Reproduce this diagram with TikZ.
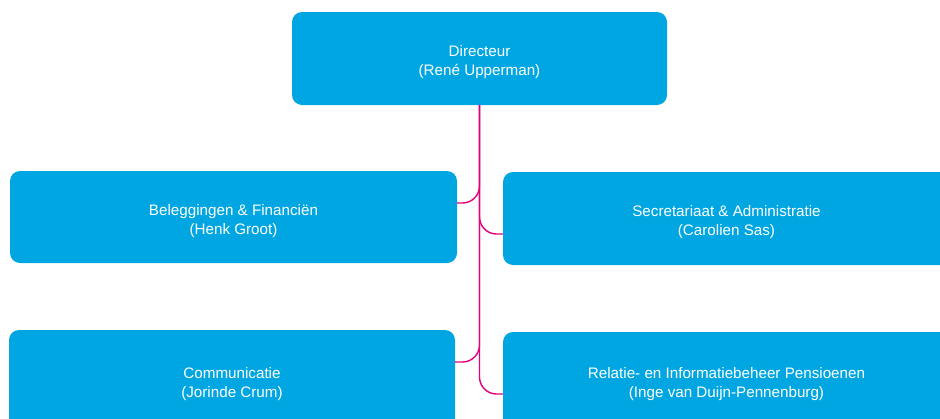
\documentclass[tikz,border=0pt]{standalone}
\usepackage{fontspec}
\setmainfont{Liberation Sans}
\definecolor{orgblue}{RGB}{0,166,226}
\definecolor{orgpink}{RGB}{228,0,124}
% taller first line so the two text lines sit slightly below the box centre
\newcommand{\toplift}{\rule{0pt}{18.5pt}}
\tikzset{
  unit/.style={fill=orgblue, rounded corners=10pt, inner sep=0pt,
    text=white, align=center, font=\fontsize{15.2}{19}\selectfont},
  conn/.style={draw=orgpink, line width=1.4pt, rounded corners=17pt}
}
\begin{document}
\begin{tikzpicture}[x=1pt,y=-1pt]
  \useasboundingbox (0,0) rectangle (940,418);
  \clip (0,0) rectangle (940,418);

  % organisation units
  \node[unit, minimum width=375pt, minimum height=93pt] (dir) at (479.5,58.5)
    {\toplift Directeur\\(René Upperman)};
  \node[unit, minimum width=447pt, minimum height=92pt] (fin) at (233.5,217)
    {\toplift Beleggingen \& Financiën\\(Henk Groot)};
  \node[unit, minimum width=447pt, minimum height=93pt] (sec) at (726.5,218.5)
    {\toplift Secretariaat \& Administratie\\(Carolien Sas)};
  \node[unit, minimum width=446pt, minimum height=100pt] (com) at (232,380)
    {\toplift Communicatie\\(Jorinde Crum)};
  \node[unit, minimum width=447pt, minimum height=96pt] (rel) at (726.5,380)
    {\toplift Relatie- en Informatiebeheer Pensioenen\\(Inge van Duijn-Pennenburg)};

  % reporting lines
  \draw[conn] (dir.south) |- ([yshift=14pt]fin.east);
  \draw[conn] (dir.south) |- ([yshift=-15.5pt]sec.west);
  \draw[conn] (dir.south) |- ([yshift=18pt]com.east);
  \draw[conn] (dir.south) |- ([yshift=-14pt]rel.west);
\end{tikzpicture}
\end{document}
